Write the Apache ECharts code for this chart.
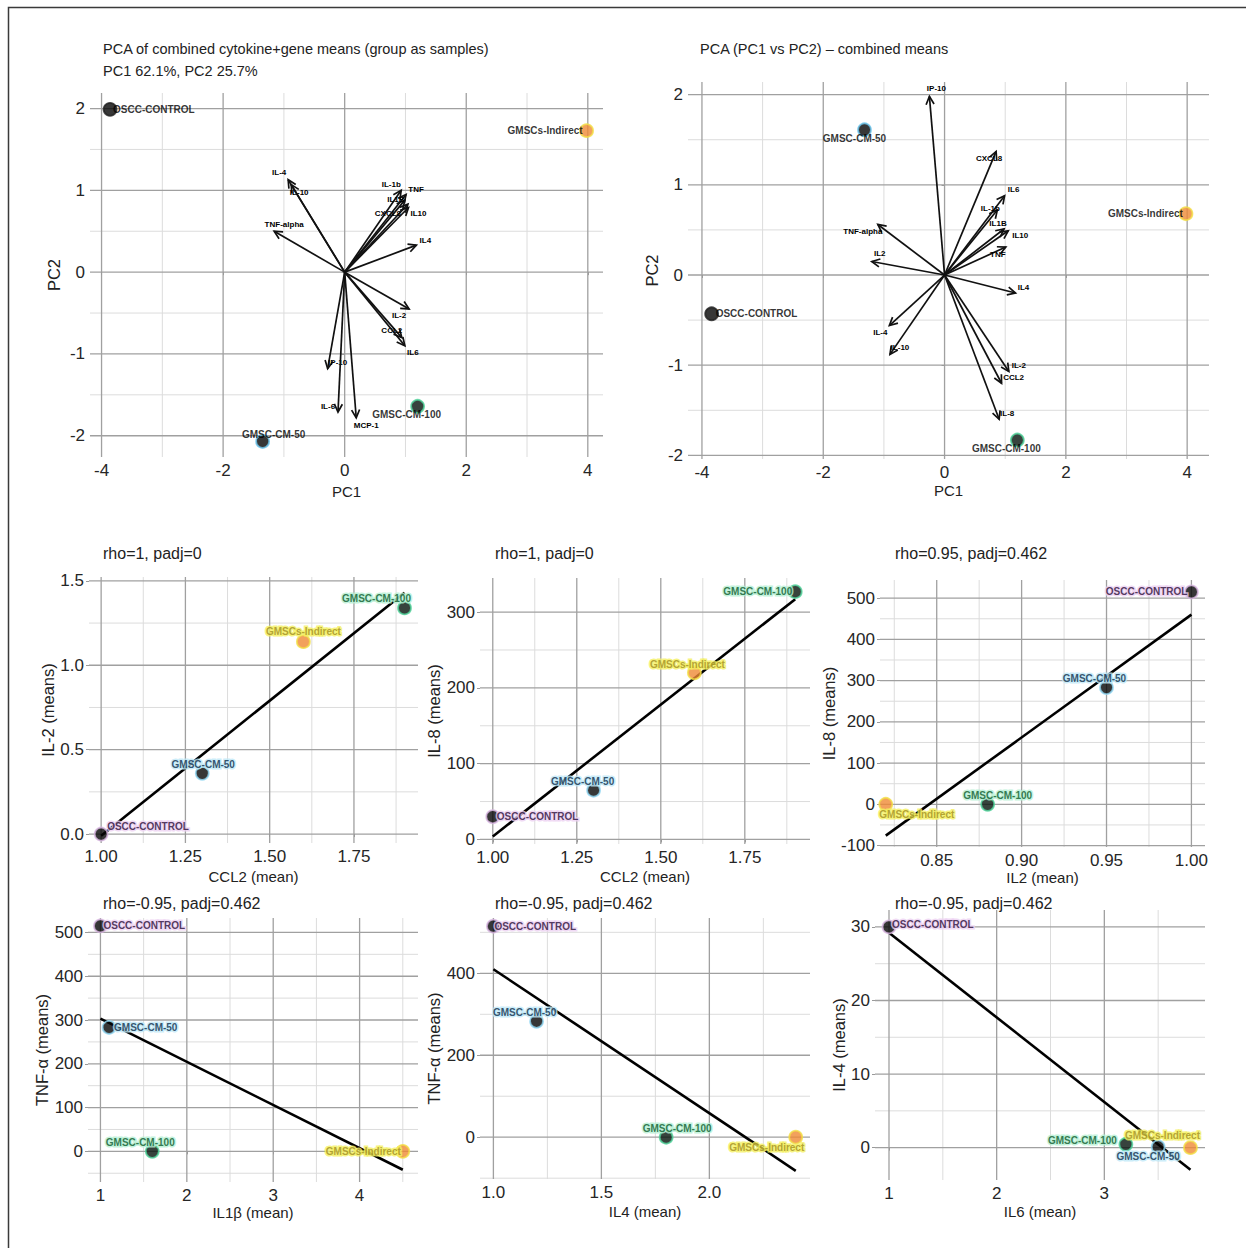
<!DOCTYPE html>
<html>
<head>
<meta charset="utf-8">
<title>PCA and correlation panels</title>
<script src="https://cdn.jsdelivr.net/npm/echarts@6/dist/echarts.min.js"></script>
<style>
  html, body { margin: 0; padding: 0; background: #ffffff; }
  #chart { width: 1246px; height: 1248px; }
</style>
</head>
<body>
<div id="chart"></div>
<script>
// ---------------- data ----------------
const groups = ['OSCC-CONTROL', 'GMSC-CM-50', 'GMSC-CM-100', 'GMSCs-Indirect'];

// PCA #1: sample scores (group order as above) and variable loadings
const pca1PC1 = [-3.86, -1.35, 1.20, 3.98];
const pca1PC2 = [1.99, -2.07, -1.64, 1.73];
const pca1Vars = ['IL-4', 'IL-10', 'TNF-alpha', 'IL-1b', 'TNF', 'IL1B', 'CXCL8', 'IL10', 'IL4', 'IL-2', 'CCL2', 'IL6', 'IP-10', 'IL-6', 'MCP-1'];
const pca1LoadPC1 = [-0.93, -0.88, -1.16, 0.93, 1.01, 0.99, 1.04, 1.05, 1.18, 1.06, 0.94, 0.99, -0.28, -0.11, 0.19];
const pca1LoadPC2 = [1.13, 1.07, 0.50, 1.00, 0.95, 0.88, 0.83, 0.79, 0.33, -0.45, -0.80, -0.90, -1.18, -1.71, -1.78];

// PCA #2
const pca2PC1 = [-3.84, -1.32, 1.20, 3.98];
const pca2PC2 = [-0.43, 1.61, -1.83, 0.68];
const pca2Vars = ['IP-10', 'CXCL8', 'IL6', 'IL-1b', 'IL1B', 'IL10', 'TNF', 'IL4', 'TNF-alpha', 'IL2', 'IL-4', 'IL-10', 'IL-2', 'CCL2', 'IL-8'];
const pca2LoadPC1 = [-0.25, 0.85, 0.99, 0.87, 0.98, 1.05, 1.01, 1.17, -1.10, -1.20, -0.91, -0.90, 1.06, 0.94, 0.90];
const pca2LoadPC2 = [1.98, 1.37, 0.88, 0.72, 0.51, 0.49, 0.31, -0.20, 0.56, 0.15, -0.56, -0.88, -1.07, -1.20, -1.60];

// pairwise group means (group order as above)
const ccl2Mean = [1.00, 1.30, 1.90, 1.60];
const il2Means = [0.00, 0.36, 1.34, 1.14];
const il8MeansCcl2 = [30, 65, 327, 220];
const il2Mean = [1.00, 0.95, 0.88, 0.82];
const il8MeansIl2 = [515, 283, 0, 0];
const il1bMean = [1.00, 1.10, 1.60, 4.50];
const tnfMeans = [515, 283, 0, 0];
const il4Mean = [1.00, 1.20, 1.80, 2.40];
const il6Mean = [1.00, 3.50, 3.20, 3.80];
const il4Means = [30, 0.1, 0.45, 0];

// fitted linear trend lines: [start, end]
const fitIl2Ccl2 = [[1.00, -0.01], [1.90, 1.43]];
const fitIl8Ccl2 = [[1.00, 4], [1.90, 317]];
const fitIl8Il2 = [[0.82, -76], [1.00, 460]];
const fitTnfIl1b = [[1.00, 303], [4.50, -42]];
const fitTnfIl4 = [[1.00, 410], [2.40, -82]];
const fitIl4Il6 = [[1.00, 29.2], [3.80, -3.0]];

const corrTitles = ['rho=1, padj=0', 'rho=1, padj=0', 'rho=0.95, padj=0.462',
                    'rho=-0.95, padj=0.462', 'rho=-0.95, padj=0.462', 'rho=-0.95, padj=0.462'];

// tick values / labels
const pcTicksX = [-4, -2, 0, 2, 4], pcTickLabelsX = ['-4', '-2', '0', '2', '4'], pcMinorX = [-3, -1, 1, 3];
const pcTicksY = [-2, -1, 0, 1, 2], pcTickLabelsY = ['-2', '-1', '0', '1', '2'], pcMinorY = [-1.5, -0.5, 0.5, 1.5];
const ccl2Ticks = [1.00, 1.25, 1.50, 1.75], ccl2TickLabels = ['1.00', '1.25', '1.50', '1.75'], ccl2Minor = [1.125, 1.375, 1.625, 1.875];
const il2yTicks = [0, 0.5, 1.0, 1.5], il2yTickLabels = ['0.0', '0.5', '1.0', '1.5'], il2yMinor = [0.25, 0.75, 1.25];
const il8aTicks = [0, 100, 200, 300], il8aTickLabels = ['0', '100', '200', '300'], il8aMinor = [50, 150, 250];
const il2xTicks = [0.85, 0.90, 0.95, 1.00], il2xTickLabels = ['0.85', '0.90', '0.95', '1.00'], il2xMinor = [0.825, 0.875, 0.925, 0.975];
const il8bTicks = [-100, 0, 100, 200, 300, 400, 500], il8bTickLabels = ['-100', '0', '100', '200', '300', '400', '500'], il8bMinor = [-50, 50, 150, 250, 350, 450];
const il1bTicks = [1, 2, 3, 4], il1bTickLabels = ['1', '2', '3', '4'], il1bMinor = [1.5, 2.5, 3.5, 4.5];
const tnfaTicks = [0, 100, 200, 300, 400, 500], tnfaTickLabels = ['0', '100', '200', '300', '400', '500'], tnfaMinor = [-50, 50, 150, 250, 350, 450];
const il4xTicks = [1.0, 1.5, 2.0], il4xTickLabels = ['1.0', '1.5', '2.0'], il4xMinor = [1.25, 1.75, 2.25];
const tnfbTicks = [0, 200, 400], tnfbTickLabels = ['0', '200', '400'], tnfbMinor = [-100, 100, 300, 500];
const il6Ticks = [1, 2, 3], il6TickLabels = ['1', '2', '3'], il6Minor = [1.5, 2.5, 3.5];
const il4yTicks = [0, 10, 20, 30], il4yTickLabels = ['0', '10', '20', '30'], il4yMinor = [5, 15, 25];

// ---------------- styles ----------------
const FONT = '"Liberation Sans", Arial, sans-serif';
const ARROW_FONT = 'bold 8px "Liberation Sans", Arial, sans-serif';

const groupStyle = {
  'OSCC-CONTROL':   { fill: '#050505', ring: '#d9b6e2', pcaRing: '#202020', text: '#2a0c38', halo: '#ecd0f2' },
  'GMSC-CM-50':     { fill: '#050505', ring: '#8fd6f2', pcaRing: '#6cc6ee', text: '#0b2c4a', halo: '#bfe9f8' },
  'GMSC-CM-100':    { fill: '#05140c', ring: '#4fd39a', pcaRing: '#4fd39a', text: '#0b5a2c', halo: '#b6f0d4' },
  'GMSCs-Indirect': { fill: '#ef8a35', ring: '#f2df45', pcaRing: '#f2df45', text: '#a38f1e', halo: '#f4f060' }
};

// label placement per group: [align, dx, dy] relative to the point centre
const pca1LabelPlace = [['left', 3, 0], ['center', 11, -7], ['center', -11, 8], ['right', -4, 0]];
const pca2LabelPlace = [['left', 4, 0], ['center', -10, 9], ['center', -11, 8], ['right', -3, 0]];
const corrLabelPlace = [
  [['left', 6, -8], ['center', 1, -9], ['center', -28, -9], ['center', 0, -10]],
  [['left', 4, 0], ['center', -11, -9], ['right', -3, 0], ['center', -7, -8]],
  [['right', -4, 0], ['center', -12, -9], ['center', 10, -9], ['center', 31, 10]],
  [['left', 3, 0], ['left', 5, 0], ['center', -12, -9], ['right', -2, 0]],
  [['left', 1, 0], ['center', -12, -9], ['center', 11, -9], ['center', -29, 10]],
  [['left', 3, -2], ['center', -10, 10], ['right', -9, -4], ['center', -28, -12]]
];

// arrow label nudges (px) from each arrow tip
const pca1LabelNudge = [[-9, -7], [8, 8], [10, -7], [-10, -6], [10, -5], [-9, -1], [-20, 9], [10, 6],
                        [9, -5], [-10, 7], [-10, -7], [8, 7], [10, -6], [-10, -6], [10, 8]];
const pca2LabelNudge = [[7, -8], [-7, 7], [9, -6], [-7, -2], [-6, -6], [12, 5], [-8, 7], [8, -6],
                        [-15, 7], [8, -8], [-9, 7], [10, -7], [10, -6], [12, -6], [8, -6]];

// ---------------- panels ----------------
const panels = [
  { grid: { left: 90, top: 93, width: 513, height: 364 }, xRange: [-4.19, 4.25], yRange: [-2.26, 2.19],
    x: [pcTicksX, pcTickLabelsX, pcMinorX], y: [pcTicksY, pcTickLabelsY, pcMinorY],
    xName: 'PC1', yName: 'PC2', xGap: 27, yGap: 28 },
  { grid: { left: 688, top: 82, width: 521, height: 377 }, xRange: [-4.23, 4.36], yRange: [-2.04, 2.14],
    x: [pcTicksX, pcTickLabelsX, pcMinorX], y: [pcTicksY, pcTickLabelsY, pcMinorY],
    xName: 'PC1', yName: 'PC2', xGap: 24, yGap: 28 },
  { grid: { left: 89, top: 577, width: 329, height: 266 }, xRange: [0.964, 1.94], yRange: [-0.053, 1.523],
    x: [ccl2Ticks, ccl2TickLabels, ccl2Minor], y: [il2yTicks, il2yTickLabels, il2yMinor],
    xName: 'CCL2 (mean)', yName: 'IL-2 (means)', xGap: 26, yGap: 32 },
  { grid: { left: 480, top: 578, width: 330, height: 266 }, xRange: [0.962, 1.944], yRange: [-6, 345],
    x: [ccl2Ticks, ccl2TickLabels, ccl2Minor], y: [il8aTicks, il8aTickLabels, il8aMinor],
    xName: 'CCL2 (mean)', yName: 'IL-8 (means)', xGap: 25, yGap: 31 },
  { grid: { left: 880, top: 580, width: 325, height: 267 }, xRange: [0.8166, 1.008], yRange: [-103.5, 544],
    x: [il2xTicks, il2xTickLabels, il2xMinor], y: [il8bTicks, il8bTickLabels, il8bMinor],
    xName: 'IL2 (mean)', yName: 'IL-8 (means)', xGap: 22, yGap: 31 },
  { grid: { left: 88, top: 918, width: 330, height: 264 }, xRange: [0.856, 4.676], yRange: [-70, 533],
    x: [il1bTicks, il1bTickLabels, il1bMinor], y: [tnfaTicks, tnfaTickLabels, tnfaMinor],
    xName: 'IL1β (mean)', yName: 'TNF-α (means)', xGap: 22, yGap: 31 },
  { grid: { left: 480, top: 918, width: 330, height: 261 }, xRange: [0.938, 2.466], yRange: [-102, 535],
    x: [il4xTicks, il4xTickLabels, il4xMinor], y: [tnfbTicks, tnfbTickLabels, tnfbMinor],
    xName: 'IL4 (mean)', yName: 'TNF-α (means)', xGap: 25, yGap: 31 },
  { grid: { left: 875, top: 910, width: 330, height: 270 }, xRange: [0.87, 3.935], yRange: [-4.4, 32.3],
    x: [il6Ticks, il6TickLabels, il6Minor], y: [il4yTicks, il4yTickLabels, il4yMinor],
    xName: 'IL6 (mean)', yName: 'IL-4 (means)', xGap: 24, yGap: 26 }
];

function nearestLabel(ticks, labels, v) {
  let best = 0, d = Infinity;
  ticks.forEach((t, i) => { const e = Math.abs(t - v); if (e < d) { d = e; best = i; } });
  return labels[best];
}

function makeAxis(idx, spec, range, name, gap, nameSize) {
  const ticks = spec[0], labels = spec[1];
  return {
    type: 'value', gridIndex: idx, min: range[0], max: range[1],
    name: name, nameLocation: 'middle', nameGap: gap,
    nameTextStyle: { fontFamily: FONT, fontSize: nameSize, color: '#222' },
    axisLine: { show: false },
    axisTick: { show: true, length: 3, customValues: ticks, lineStyle: { color: '#9a9a9a', width: 1 } },
    axisLabel: { customValues: ticks, margin: 5, fontFamily: FONT, fontSize: 17, color: '#262626',
                 formatter: v => nearestLabel(ticks, labels, v) },
    splitLine: { show: false }
  };
}

// grid lines drawn from the tick arrays: [value, orientation(0=vertical), major]
function gridLineItem(params, api) {
  const v = api.value(0), vertical = api.value(1) === 0, major = api.value(2) === 1;
  const cs = params.coordSys;
  let shape;
  if (vertical) {
    const px = api.coord([v, 0])[0];
    shape = { x1: px, y1: cs.y, x2: px, y2: cs.y + cs.height };
  } else {
    const py = api.coord([0, v])[1];
    shape = { x1: cs.x, y1: py, x2: cs.x + cs.width, y2: py };
  }
  return { type: 'line', shape: shape,
           style: { stroke: major ? '#a0a0a0' : '#dcdcdc', lineWidth: major ? 1.3 : 1 } };
}

function gridLineData(p) {
  return [
    ...p.x[2].map(v => [v, 0, 0]), ...p.y[2].map(v => [v, 1, 0]),
    ...p.x[0].map(v => [v, 0, 1]), ...p.y[0].map(v => [v, 1, 1])
  ];
}

function makeArrowRenderer(names, nudges) {
  return function (params, api) {
    const i = params.dataIndex;
    const o = api.coord([0, 0]);
    const t = api.coord([api.value(0), api.value(1)]);
    const dx = t[0] - o[0], dy = t[1] - o[1];
    const len = Math.hypot(dx, dy) || 1;
    const ux = dx / len, uy = dy / len;
    const hl = 8, hw = 4;
    const bx = t[0] - ux * hl, by = t[1] - uy * hl;
    const p1 = [bx - uy * hw, by + ux * hw];
    const p2 = [bx + uy * hw, by - ux * hw];
    const n = nudges[i];
    return {
      type: 'group',
      children: [
        { type: 'line', shape: { x1: o[0], y1: o[1], x2: t[0], y2: t[1] },
          style: { stroke: '#111', lineWidth: 1.7 } },
        { type: 'polyline', shape: { points: [p1, t, p2] },
          style: { stroke: '#111', lineWidth: 1.7, fill: null } },
        { type: 'text', x: t[0] + n[0], y: t[1] + n[1],
          style: { text: names[i], font: ARROW_FONT, fill: '#000', align: 'center', verticalAlign: 'middle' } }
      ]
    };
  };
}

function pointItems(xs, ys, place, pca) {
  return groups.map((g, i) => {
    const st = groupStyle[g], pl = place[i];
    return {
      value: [xs[i], ys[i]], name: g,
      itemStyle: { color: st.fill, borderColor: pca ? st.pcaRing : st.ring, borderWidth: 1.8 },
      label: {
        show: true, position: 'inside', offset: [pl[1], pl[2]], align: pl[0], verticalAlign: 'middle',
        formatter: g, fontFamily: FONT, fontWeight: 'bold', fontSize: 10,
        color: pca ? '#000' : st.text,
        textBorderColor: pca ? '#ffffff' : st.halo, textBorderWidth: pca ? 0 : 3
      }
    };
  });
}

const grids = [], xAxes = [], yAxes = [], series = [];
panels.forEach((p, i) => {
  grids.push(Object.assign({ containLabel: false }, p.grid));
  xAxes.push(makeAxis(i, p.x, p.xRange, p.xName, p.xGap, 15));
  yAxes.push(makeAxis(i, p.y, p.yRange, p.yName, p.yGap, 16.5));
  series.push({ type: 'custom', xAxisIndex: i, yAxisIndex: i, silent: true, z: 0,
                renderItem: gridLineItem, data: gridLineData(p) });
});

// PCA biplots
series.push({ type: 'custom', xAxisIndex: 0, yAxisIndex: 0, silent: true, z: 3,
  renderItem: makeArrowRenderer(pca1Vars, pca1LabelNudge),
  data: pca1LoadPC1.map((v, i) => [v, pca1LoadPC2[i]]) });
series.push({ type: 'custom', xAxisIndex: 1, yAxisIndex: 1, silent: true, z: 3,
  renderItem: makeArrowRenderer(pca2Vars, pca2LabelNudge),
  data: pca2LoadPC1.map((v, i) => [v, pca2LoadPC2[i]]) });
series.push({ type: 'scatter', xAxisIndex: 0, yAxisIndex: 0, symbolSize: 13, z: 5, silent: true,
  data: pointItems(pca1PC1, pca1PC2, pca1LabelPlace, true) });
series.push({ type: 'scatter', xAxisIndex: 1, yAxisIndex: 1, symbolSize: 13, z: 5, silent: true,
  data: pointItems(pca2PC1, pca2PC2, pca2LabelPlace, true) });

// correlation panels
const corrPanels = [
  [ccl2Mean, il2Means, fitIl2Ccl2],
  [ccl2Mean, il8MeansCcl2, fitIl8Ccl2],
  [il2Mean, il8MeansIl2, fitIl8Il2],
  [il1bMean, tnfMeans, fitTnfIl1b],
  [il4Mean, tnfMeans, fitTnfIl4],
  [il6Mean, il4Means, fitIl4Il6]
];
corrPanels.forEach((c, k) => {
  const gi = k + 2;
  series.push({ type: 'line', xAxisIndex: gi, yAxisIndex: gi, data: c[2], symbol: 'none', silent: true, z: 3,
                lineStyle: { color: '#000', width: 2.6 } });
  series.push({ type: 'scatter', xAxisIndex: gi, yAxisIndex: gi, symbolSize: 13, z: 5, silent: true,
                data: pointItems(c[0], c[1], corrLabelPlace[k], false) });
});

const pcaTitleStyle = { fontFamily: FONT, fontSize: 14.5, fontWeight: 'normal', color: '#222', lineHeight: 22 };
const corrTitleStyle = { fontFamily: FONT, fontSize: 16, fontWeight: 'normal', color: '#222', lineHeight: 22 };
const titles = [
  { text: 'PCA of combined cytokine+gene means (group as samples)\nPC1 62.1%, PC2 25.7%', left: 103, top: 38, textStyle: pcaTitleStyle },
  { text: 'PCA (PC1 vs PC2) – combined means', left: 700, top: 38, textStyle: pcaTitleStyle },
  { text: corrTitles[0], left: 103, top: 542 },
  { text: corrTitles[1], left: 495, top: 542 },
  { text: corrTitles[2], left: 895, top: 542 },
  { text: corrTitles[3], left: 103, top: 892 },
  { text: corrTitles[4], left: 495, top: 892 },
  { text: corrTitles[5], left: 895, top: 892 }
].map(t => Object.assign({ padding: 0, textStyle: corrTitleStyle }, t));

const chart = echarts.init(document.getElementById('chart'), null, { renderer: 'svg' });
chart.setOption({
  backgroundColor: '#ffffff',
  animation: false,
  title: titles,
  grid: grids,
  xAxis: xAxes,
  yAxis: yAxes,
  series: series,
  graphic: [{
    type: 'rect', silent: true, z: -1,
    shape: { x: 8.5, y: 7.5, width: 1300, height: 1300 },
    style: { fill: 'none', stroke: '#3a3a3a', lineWidth: 1.5 }
  }]
});
</script>
</body>
</html>
